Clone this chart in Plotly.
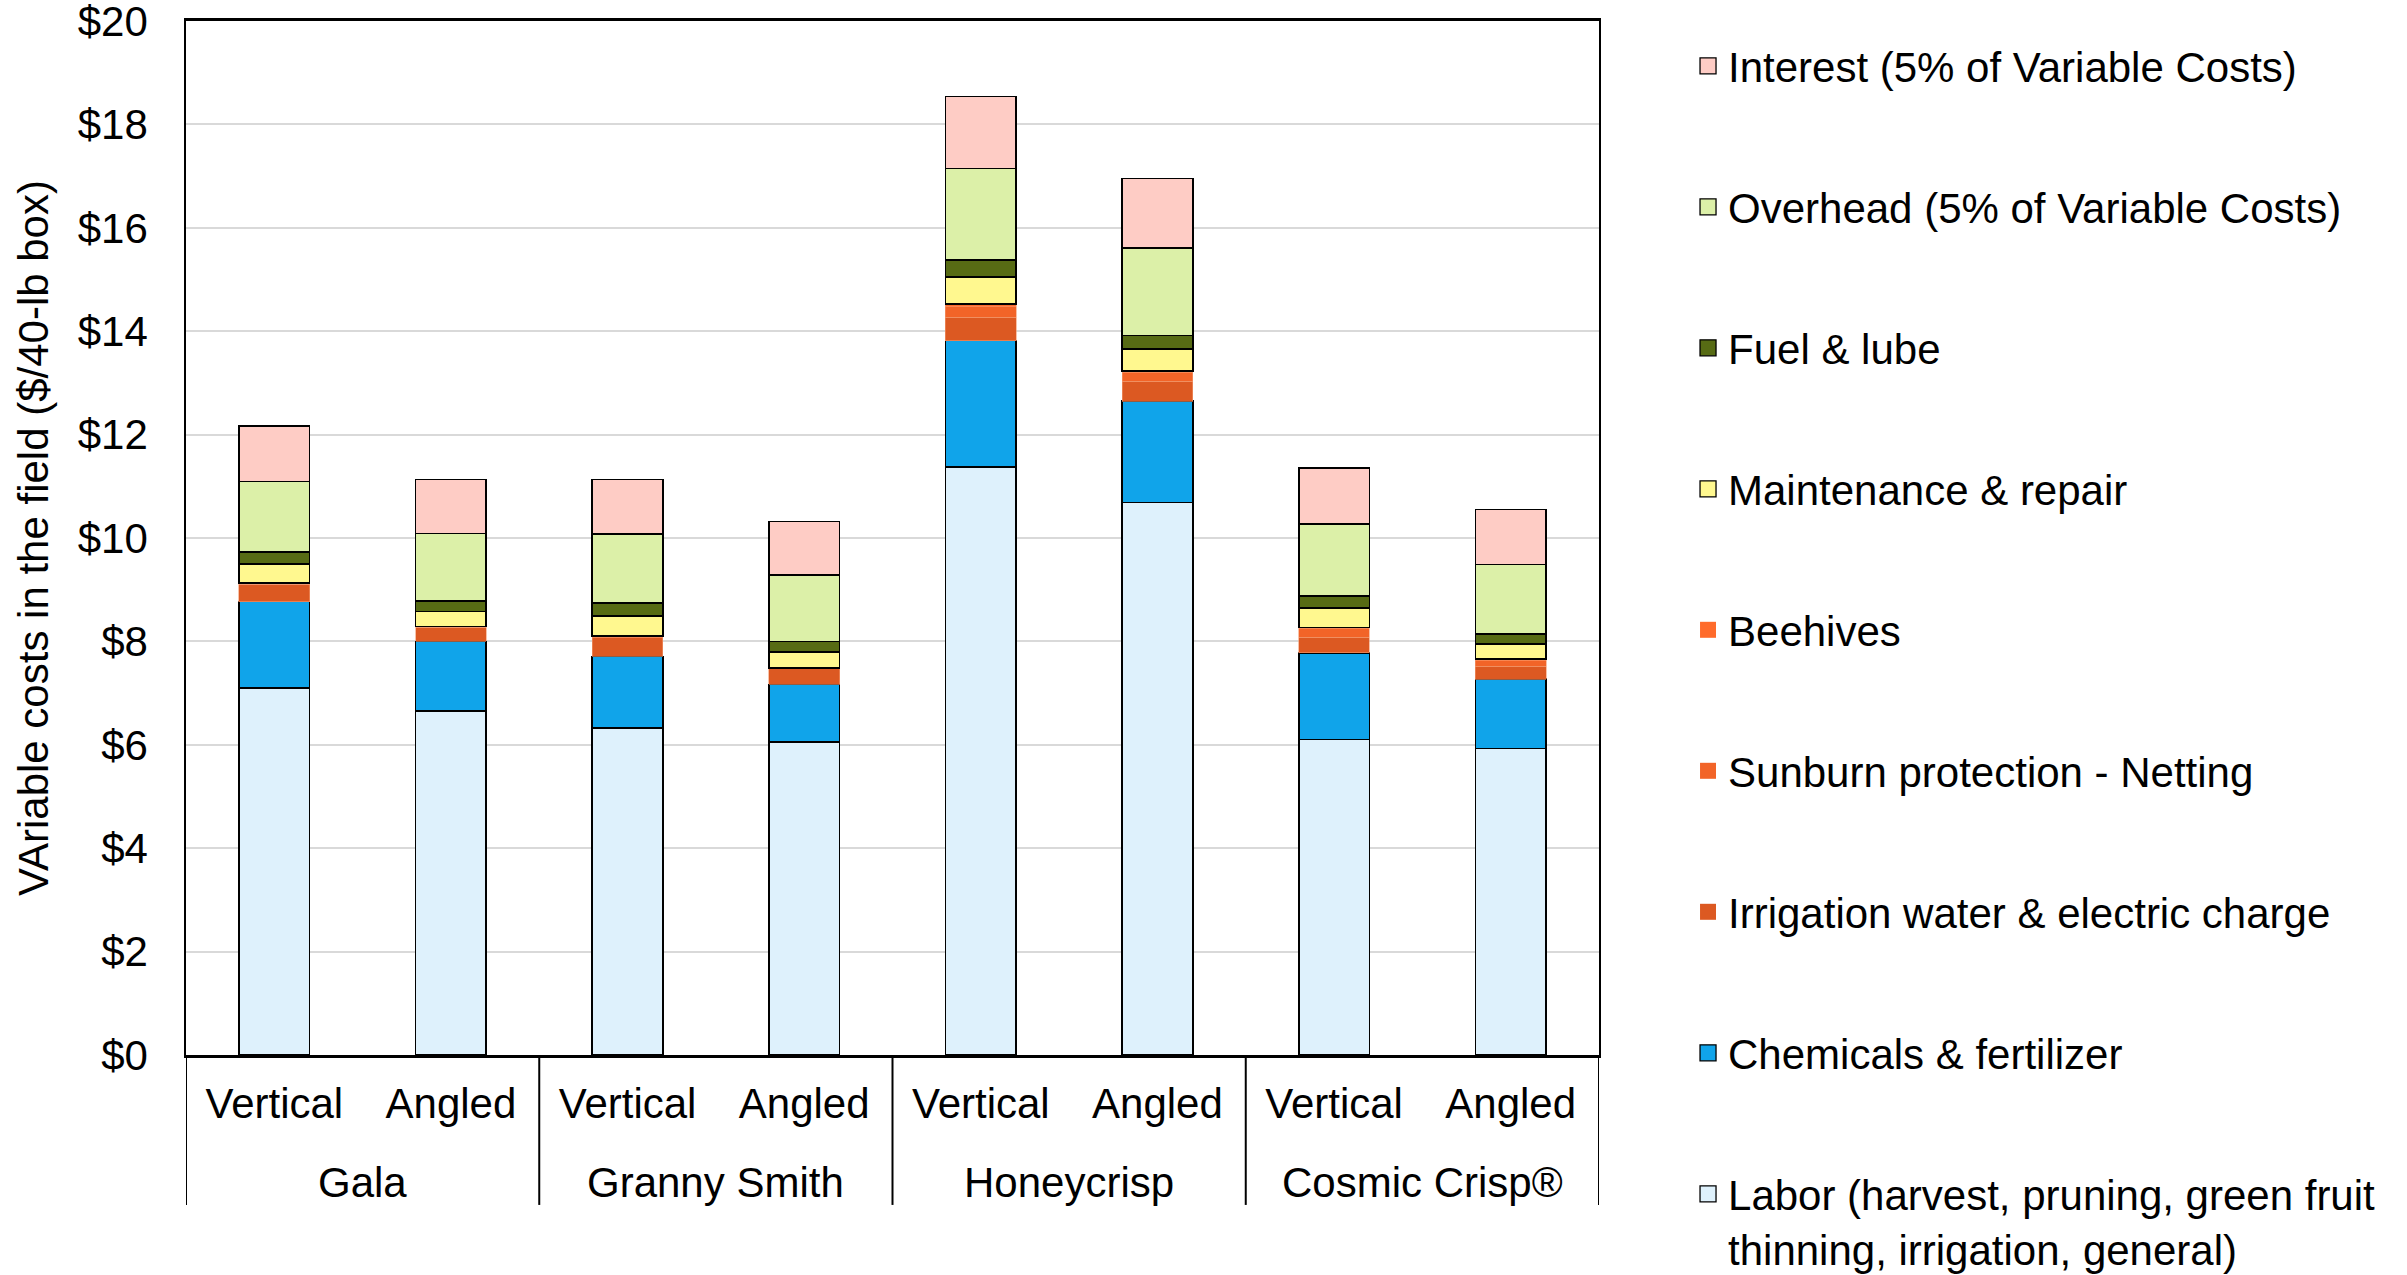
import plotly.graph_objects as go

# Apple varieties, each shown for two training systems
varieties = ["Gala", "Granny Smith", "Honeycrisp", "Cosmic Crisp®"]
systems = ["Vertical", "Angled"]

# Variable cost components, $ per 40-lb box, in bar order:
# Gala V, Gala A, Granny Smith V, Granny Smith A, Honeycrisp V, Honeycrisp A,
# Cosmic Crisp V, Cosmic Crisp A
labor = [7.10, 6.65, 6.32, 6.06, 11.37, 10.69, 6.10, 5.93]
chemicals = [1.67, 1.35, 1.39, 1.11, 2.45, 1.96, 1.68, 1.34]
irrigation = [0.34, 0.27, 0.36, 0.30, 0.45, 0.38, 0.30, 0.25]
sunburn = [0.00, 0.00, 0.00, 0.00, 0.20, 0.17, 0.16, 0.11]
beehives = [0.02, 0.02, 0.04, 0.02, 0.06, 0.03, 0.03, 0.03]
maintenance = [0.37, 0.29, 0.38, 0.31, 0.52, 0.43, 0.38, 0.29]
fuel = [0.23, 0.20, 0.25, 0.20, 0.33, 0.26, 0.23, 0.19]
overhead = [1.36, 1.31, 1.34, 1.29, 1.77, 1.69, 1.39, 1.35]
interest = [1.08, 1.04, 1.05, 1.03, 1.39, 1.34, 1.08, 1.06]

y_ticks = [0, 2, 4, 6, 8, 10, 12, 14, 16, 18, 20]

# (name, values, fill colour, outlined?) from the bottom of the stack up
series = [
    ("Labor (harvest, pruning, green fruit<br>thinning, irrigation, general)", labor, "#DEF1FC", True),
    ("Chemicals & fertilizer", chemicals, "#10A4EA", True),
    ("Irrigation water & electric charge", irrigation, "#DC5922", False),
    ("Sunburn protection - Netting", sunburn, "#F26428", False),
    ("Beehives", beehives, "#FF6B2B", False),
    ("Maintenance & repair", maintenance, "#FFF88F", True),
    ("Fuel & lube", fuel, "#576B14", True),
    ("Overhead (5% of Variable Costs)", overhead, "#DCF0A8", True),
    ("Interest (5% of Variable Costs)", interest, "#FECCC5", True),
]

FONT = "Liberation Sans, Arial, sans-serif"
FS = 42

# bar positions along the category axis
n_sys = len(systems)
positions = list(range(len(varieties) * n_sys))
tick_text = [systems[i % n_sys] for i in positions]

fig = go.Figure()
for i, (name, vals, color, outlined) in enumerate(series):
    edge = dict(color="black" if outlined else "#F39A6E",
                width=1.6 if outlined else 0.6)
    fig.add_trace(go.Bar(
        name=name, x=positions, y=vals, width=0.4,
        marker=dict(color=color, line=edge),
        showlegend=False,
    ))
    # legend entry with a larger square swatch
    fig.add_trace(go.Scatter(
        name=name, x=[None], y=[None], mode="markers",
        marker=dict(symbol="square", size=16, color=color,
                    line=dict(color="black" if outlined else color,
                              width=1.3 if outlined else 0)),
        legendgroup=f"g{i}", legendrank=100 - i,
        showlegend=True,
    ))

# variety names under each pair of bars, with divider lines between groups
for g, variety in enumerate(varieties):
    fig.add_annotation(
        x=g * n_sys + (n_sys - 1) / 2, xref="x",
        y=-0.123, yref="paper", yanchor="middle",
        text=variety, showarrow=False,
        font=dict(family=FONT, size=FS, color="black"),
    )
for g in range(len(varieties) + 1):
    xd = g * n_sys - 0.5
    fig.add_shape(type="line", xref="x", yref="paper",
                  x0=xd, x1=xd, y0=0, y1=-0.145,
                  line=dict(color="black", width=2))

fig.update_layout(
    width=2407,
    height=1275,
    barmode="stack",
    plot_bgcolor="white",
    paper_bgcolor="white",
    font=dict(family=FONT, size=FS, color="black"),
    margin=dict(l=186, r=808, t=21, b=220, autoexpand=False),
    showlegend=True,
    legend=dict(
        xref="container", yref="container",
        xanchor="left", yanchor="top", x=0.7013, y=0.9749,
        maxheight=1,
        traceorder="grouped", tracegroupgap=83.4, valign="top",
        font=dict(family=FONT, size=FS, color="black"),
        bgcolor="rgba(0,0,0,0)",
    ),
    xaxis=dict(
        range=[-0.5, len(positions) - 0.5],
        tickmode="array", tickvals=positions, ticktext=tick_text,
        showline=True, linecolor="black", linewidth=2.5,
        mirror=True, ticks="", showgrid=False, zeroline=False,
        ticklabelstandoff=10,
        tickfont=dict(family=FONT, size=FS, color="black"),
    ),
    yaxis=dict(
        range=[0, 20],
        tickmode="array", tickvals=y_ticks,
        ticktext=[f"${v}" for v in y_ticks],
        showgrid=True, gridcolor="#D9D9D9", gridwidth=2,
        showline=True, linecolor="black", linewidth=1.5,
        mirror=True, ticks="", zeroline=False,
        ticklabelstandoff=28,
        ticklabeloverflow="allow",
        tickfont=dict(family=FONT, size=FS, color="black"),
        title=dict(text="VAriable costs in the field ($/40-lb box)",
                   font=dict(family=FONT, size=FS, color="black"),
                   standoff=16),
    ),
)

fig.write_html("out.html")
